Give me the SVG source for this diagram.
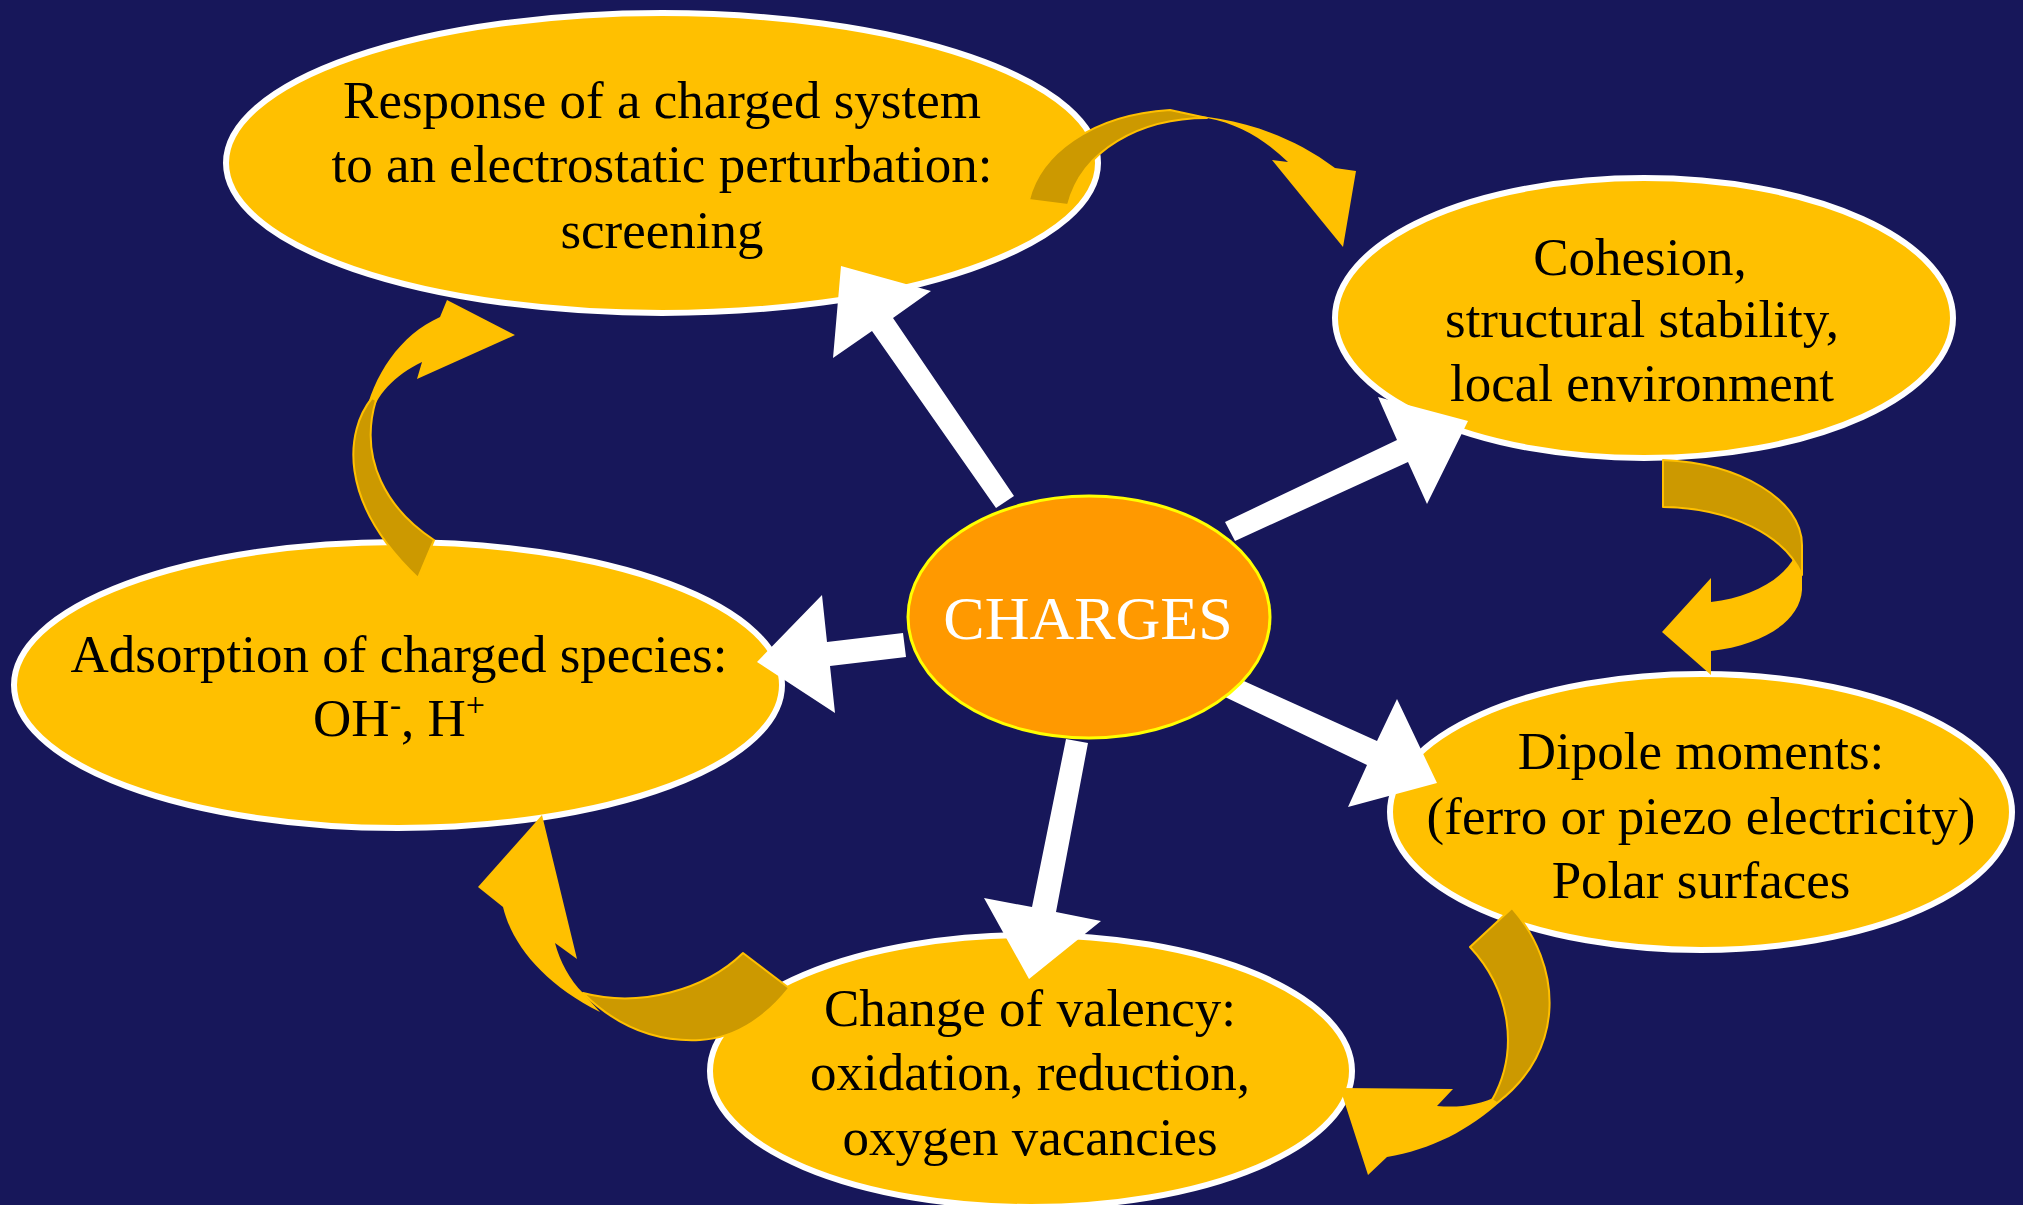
<svg xmlns="http://www.w3.org/2000/svg" width="2023" height="1205" viewBox="0 0 2023 1205">
<style>
.bg{fill:#17175a}
.node{fill:#ffc000;stroke:#ffffff;stroke-width:6}
.core{fill:#ff9900;stroke:#ffff00;stroke-width:3}
.t{font-family:"Liberation Serif","Times New Roman",serif;font-size:53px;fill:#000000;text-anchor:middle}
.tc{font-family:"Liberation Serif","Times New Roman",serif;font-size:62px;fill:#ffffff;text-anchor:middle}
.wa{fill:#ffffff}
.cy{fill:#ffc000}
.cd{fill:#cc9900;stroke:#ffc000;stroke-width:2;stroke-linejoin:round}
</style>
<rect class="bg" x="0" y="0" width="2023" height="1205"/>
<g id="n-response">
<ellipse class="node" cx="662" cy="163" rx="436" ry="150"/>
<text class="t" x="662" y="118">Response of a charged system</text>
<text class="t" x="662" y="182">to an electrostatic perturbation:</text>
<text class="t" x="662" y="248">screening</text>
</g>
<g id="n-cohesion">
<ellipse class="node" cx="1644" cy="318" rx="309" ry="140"/>
<text class="t" x="1640" y="275">Cohesion,</text>
<text class="t" x="1642" y="337">structural stability,</text>
<text class="t" x="1642" y="401">local environment</text>
</g>
<g id="n-dipole">
<ellipse class="node" cx="1701" cy="812" rx="311" ry="138"/>
<text class="t" x="1701" y="769">Dipole moments:</text>
<text class="t" x="1701" y="834">(ferro or piezo electricity)</text>
<text class="t" x="1701" y="898">Polar surfaces</text>
</g>
<g id="n-valency">
<ellipse class="node" cx="1031" cy="1071" rx="321" ry="136"/>
<text class="t" x="1030" y="1026">Change of valency:</text>
<text class="t" x="1030" y="1090">oxidation, reduction,</text>
<text class="t" x="1030" y="1155">oxygen vacancies</text>
</g>
<g id="n-adsorption">
<ellipse class="node" cx="398" cy="685" rx="384" ry="143"/>
<text class="t" x="399" y="672">Adsorption of charged species:</text>
<text class="t" x="399" y="736">OH<tspan font-size="34" dy="-20">-</tspan><tspan dy="20">, H</tspan><tspan font-size="34" dy="-20">+</tspan></text>
</g>
<g id="connectors">
<polygon class="wa" points="996,508 872,331 833,358 841,266 931,291 893,318 1014,496"/>
<polygon class="wa" points="1225,522 1397,440 1378,397 1468,421 1427,504 1408,462 1235,541"/>
<polygon class="wa" points="1235,677 1377,741 1397,699 1437,783 1348,807 1367,765 1225,697"/>
<polygon class="wa" points="903,633 827,642 822,595 757,662 835,713 830,666 906,657"/>
<polygon class="wa" points="1066,739 1032,907 984,898 1029,979 1101,921 1056,912 1088,743"/>
<path class="cy" d="M1090,130 C1140,106 1250,104 1335,168 L1356,171 L1343,247 L1272,160 L1288,162 C1265,140 1240,124 1207,118 C1170,115 1120,124 1090,138 Z"/>
<path class="cd" d="M1029,200 C1040,155 1090,115 1170,110 L1207,118 C1140,118 1082,150 1068,205 Z"/>
<path class="cy" d="M1802,540 L1802,590 C1800,622 1762,645 1711,651 L1711,675 L1662,632 L1711,578 L1711,602 C1750,598 1783,580 1795,556 Z"/>
<path class="cd" d="M1663,460 C1740,463 1802,500 1802,545 L1802,575 C1785,535 1730,508 1663,507 Z"/>
<path class="cy" d="M1500,1095 C1480,1105 1460,1108 1437,1106 L1453,1089 L1340,1088 L1368,1175 L1387,1157 C1430,1150 1470,1130 1502,1100 Z"/>
<path class="cd" d="M1512,908 C1562,965 1567,1050 1497,1103 L1492,1100 C1520,1050 1510,990 1470,947 Z"/>
<path class="cy" d="M503,907 C512,945 545,985 600,1012 L583,993 C570,980 560,962 555,943 L577,959 L542,815 L478,887 Z"/>
<path class="cd" d="M743,953 C705,990 640,1008 583,993 C620,1030 660,1042 700,1040 C740,1038 770,1012 789,988 Z"/>
<path class="cy" d="M364,420 C373,375 400,335 440,317 L447,300 L515,335 L417,379 L422,362 C395,375 375,395 370,420 Z"/>
<path class="cd" d="M372,398 C346,430 336,500 418,578 L434,540 C388,510 358,460 376,400 Z"/>
</g>
<g id="n-charges">
<ellipse class="core" cx="1089" cy="617" rx="181" ry="121"/>
<text class="tc" x="1088" y="639">CHARGES</text>
</g>
</svg>
